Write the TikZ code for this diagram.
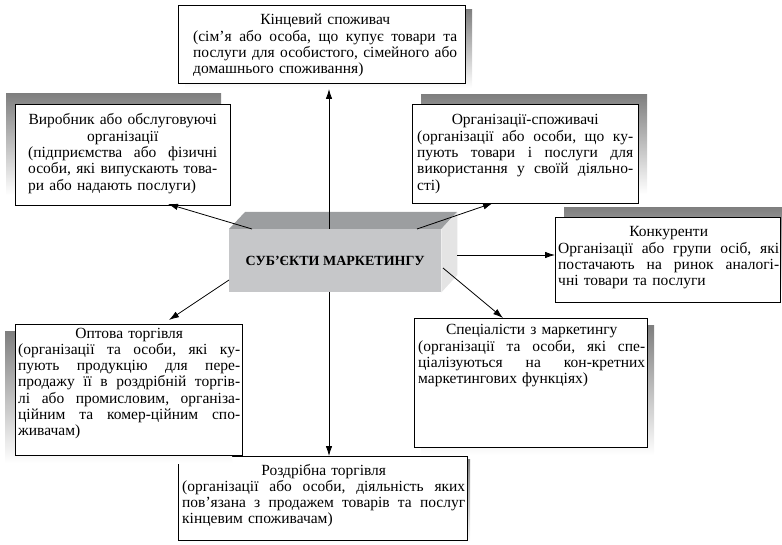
\documentclass[tikz,border=0pt]{standalone}
\usepackage{fontspec}
\setmainfont{Liberation Serif}
\usetikzlibrary{arrows.meta}

\definecolor{shade}{RGB}{122,125,128}
\definecolor{facefront}{RGB}{198,199,201}
\definecolor{facetop}{RGB}{156,158,160}
\definecolor{faceside}{RGB}{228,228,228}

% one line of a text block: centred, justified, or last (flush left)
\newcommand\tcen[1]{\hbox to\hsize{\hfil#1\hfil}}
\newcommand\tjus[1]{\hbox to\hsize{\spaceskip=.25em plus 1fil minus .15em\relax#1}}
\newcommand\tend[1]{\hbox to\hsize{#1\hfil}}

\begin{document}
\begin{tikzpicture}[x=1pt,y=-1pt,
  card/.style={draw=black, line width=0.8pt, fill=white, inner sep=0pt, anchor=north west},
  txt/.style={anchor=base west, inner sep=0pt, font=\fontsize{15.5}{16.3}\selectfont\frenchspacing},
  arr/.style={line width=0.8pt, -{Latex[length=10pt,width=6.5pt]}}]

\useasboundingbox (0,0) rectangle (782,545);

% ---- retail trade (drawn first: the wholesale shadow overlaps it)
\fill[shade] (181,459) rectangle ++(289,84);
\node[card, minimum width=289pt, minimum height=84pt] (roz) at (178,456) {};

% ---- end consumer
\fill[shade] (185,10) rectangle ++(287,78);
\node[card, minimum width=287pt, minimum height=78pt] (kin) at (178,5) {};

% ---- producers
\fill[shade] (6,94) rectangle ++(215,101);
\node[card, minimum width=215pt, minimum height=101pt] (vyr) at (15,104) {};

% ---- organisations-consumers
\fill[shade] (421,95) rectangle ++(226,99);
\node[card, minimum width=226pt, minimum height=99pt] (org) at (412,104) {};

% ---- competitors
\fill[shade] (564,208) rectangle ++(225,85);
\node[card, minimum width=225pt, minimum height=85pt] (kon) at (555,217) {};

% ---- wholesale
\fill[shade] (5,332) rectangle ++(227,131);
\node[card, minimum width=227pt, minimum height=131pt] (opt) at (15,324) {};

% ---- marketing specialists
\fill[shade] (421,326) rectangle ++(233,129);
\node[card, minimum width=233pt, minimum height=129pt] (spec) at (414,318) {};

% ---- central block with 3D faces
\node[fill=facefront, inner sep=0pt, anchor=north west,
      minimum width=212pt, minimum height=63pt,
      font=\bfseries\fontsize{14}{15}\selectfont] (subj) at (229,229) {СУБ’ЄКТИ МАРКЕТИНГУ};
\fill[facetop] (subj.north west) -- ++(16,-17) -- ++(212,0) -- (subj.north east) -- cycle;
\fill[faceside] (subj.north east) -- ++(16,-17) -- ++(0,63) -- (subj.south east) -- cycle;

% ---- connectors
\coordinate (s-up)   at (329,229);
\coordinate (s-dn)   at (329,292);
\coordinate (s-ul)   at (252,229);
\coordinate (s-ur)   at (417,229);
\coordinate (s-r)    at (457,255);
\coordinate (s-lr)   at (443,268);
\coordinate (s-ll)   at (229,280);
\coordinate (e-up)   at (329,89);
\coordinate (e-ul)   at (168,204);
\coordinate (e-ur)   at (493,203);
\coordinate (e-lr)   at (503,318);
\coordinate (e-ll)   at (169,320);

\draw[arr] (s-up) -- (e-up);
\draw[arr] (s-dn) -- (s-dn |- roz.north);
\draw[arr] (s-ul) -- (e-ul);
\draw[arr] (s-ur) -- (e-ur);
\draw[arr] (s-r) -- (s-r -| kon.west);
\draw[arr] (s-lr) -- (e-lr);
\draw[arr] (s-ll) -- (e-ll);

% ---- texts
\node[txt, text width=264pt] (kin-t) at (193,25) {%
\tcen{Кінцевий споживач}
\tjus{(сім’я або особа, що купує товари та}
\tjus{послуги для особистого, сімейного або}
\tend{домашнього споживання)}};

\node[txt, text width=189pt] (vyr-t) at (28,125) {%
\tcen{Виробник або обслуговуючі}
\tcen{організації}
\tjus{(підприємства або фізичні}
\tjus{особи, які випускають това-}
\tend{ри або надають послуги)}};

\node[txt, text width=216pt] (org-t) at (417,125) {%
\tcen{Організації-споживачі}
\tjus{(організації або особи, що ку-}
\tjus{пують товари і послуги для}
\tjus{використання у своїй діяльно-}
\tend{сті)}};

\node[txt, text width=221pt] (kon-t) at (558,237) {%
\tcen{Конкуренти}
\tjus{Організації або групи осіб, які}
\tjus{постачають на ринок аналогі-}
\tend{чні товари та послуги}};

\node[txt, text width=222pt] (opt-t) at (18,338) {%
\tcen{Оптова торгівля}
\tjus{(організації та особи, які ку-}
\tjus{пують продукцію для пере-}
\tjus{продажу її в роздрібній торгів-}
\tjus{лі або промисловим, організа-}
\tjus{ційним та комер-ційним спо-}
\tend{живачам)}};

\node[txt, text width=227pt] (spec-t) at (418,335) {%
\tcen{Спеціалісти з маркетингу}
\tjus{(організації та особи, які спе-}
\tjus{ціалізуються на кон-кретних}
\tend{маркетингових функціях)}};

\node[txt, text width=283pt] (roz-t) at (182,475) {%
\tcen{Роздрібна торгівля}
\tjus{(організації або особи, діяльність яких}
\tjus{пов’язана з продажем товарів та послуг}
\tend{кінцевим споживачам)}};

\end{tikzpicture}
\end{document}
